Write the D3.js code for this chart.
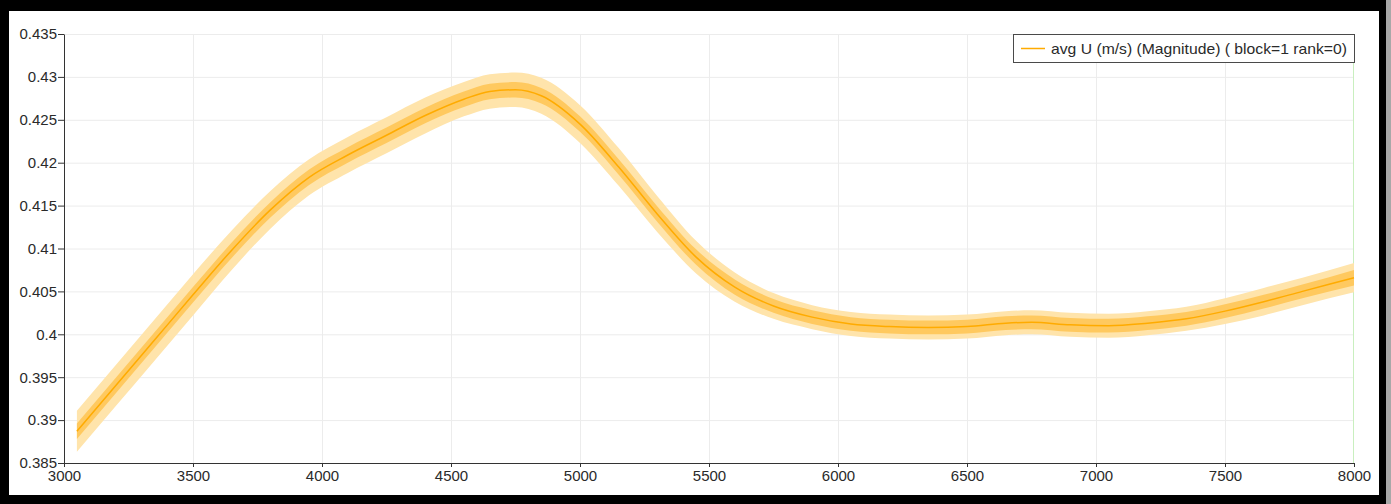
<!DOCTYPE html>
<html>
<head>
<meta charset="utf-8">
<script src="https://cdn.jsdelivr.net/npm/d3@7"></script>
<style>
  html, body { margin: 0; padding: 0; background: #000; }
  svg { display: block; }
  .axis path, .axis line { stroke: #333; }
  .axis text { font-family: "Liberation Sans", Arial, sans-serif; font-size: 15px; fill: #2a2a2a; }
  .grid line { stroke: #ececec; stroke-width: 1; }
</style>
</head>
<body>
<svg id="chart"></svg>
<script>
// time / position samples along the curve
const xs = [3050, 3200, 3350, 3500, 3650, 3800, 3950, 4100, 4250, 4400, 4550, 4650, 4750, 4850,
  5000, 5150, 5300, 5450, 5600, 5750, 5900, 6050, 6200, 6350, 6500, 6650, 6750, 6900, 7050,
  7200, 7350, 7500, 7650, 7800, 8000];
// average value
const avgU = [.3887, .3940, .3993, .4046, .4098, .4145, .4183, .4209, .4232, .4255, .4274, .4283, .4285, .4278,
  .4245, .4195, .4140, .4090, .4055, .4033, .4020, .4012, .4009, .4008, .4009, .4013, .4014, .4011, .4010,
  .4013, .4018, .4027, .4038, .4050, .4066];
// outer band (min / max)
const minU = [.3863, .3916, .3969, .4022, .4075, .4123, .4162, .4188, .4211, .4234, .4254, .4263, .4265, .4257,
  .4223, .4173, .4119, .4071, .4038, .4018, .4006, .3998, .3995, .3994, .3995, .3999, .4000, .3997, .3996,
  .3999, .4004, .4012, .4022, .4034, .4049];
const maxU = [.3911, .3964, .4017, .4070, .4121, .4167, .4204, .4230, .4253, .4276, .4294, .4303, .4305, .4299,
  .4267, .4217, .4161, .4109, .4072, .4048, .4034, .4026, .4023, .4022, .4023, .4027, .4028, .4025, .4024,
  .4027, .4032, .4042, .4054, .4066, .4083];
// inner band (quartiles)
const q1U = [.3878, .3931, .3984, .4037, .4089, .4136, .4174, .4200, .4223, .4246, .4265, .4274, .4276, .4269,
  .4236, .4186, .4131, .4081, .4046, .4025, .4012, .4004, .4001, .4000, .4001, .4005, .4006, .4003, .4002,
  .4005, .4010, .4019, .4030, .4042, .4057];
const q3U = [.3896, .3949, .4002, .4055, .4107, .4154, .4192, .4218, .4241, .4264, .4283, .4292, .4294, .4287,
  .4254, .4204, .4149, .4099, .4064, .4041, .4028, .4020, .4017, .4016, .4017, .4021, .4022, .4019, .4018,
  .4021, .4026, .4035, .4046, .4058, .4075];

const xTicks = [3000, 3500, 4000, 4500, 5000, 5500, 6000, 6500, 7000, 7500, 8000];
const yTicks = [0.385, 0.39, 0.395, 0.4, 0.405, 0.41, 0.415, 0.42, 0.425, 0.43, 0.435];
const yTickLabels = ['0.385', '0.39', '0.395', '0.4', '0.405', '0.41', '0.415', '0.42', '0.425', '0.43', '0.435'];
const legendLabel = 'avg U (m/s) (Magnitude) ( block=1 rank=0)';

const W = 1391, H = 504;
const margin = { left: 64, right: 1391 - 1354, top: 34, bottom: 504 - 463 };

const svg = d3.select('#chart').attr('width', W).attr('height', H);

// black frame, white canvas
svg.append('rect').attr('x', 0).attr('y', 0).attr('width', W).attr('height', H).attr('fill', '#000');
svg.append('rect').attr('x', 1386).attr('y', 0).attr('width', 5).attr('height', H).attr('fill', '#a8a8a8');
svg.append('rect').attr('x', 9).attr('y', 11).attr('width', 1370).attr('height', 484).attr('fill', '#fff');

const x = d3.scaleLinear().domain([3000, 8000]).range([margin.left, W - margin.right]);
const y = d3.scaleLinear().domain([0.385, 0.435]).range([H - margin.bottom, margin.top]);

// grid
const grid = svg.append('g').attr('class', 'grid');
grid.selectAll('.gx').data(xTicks.slice(1, -1)).enter().append('line')
  .attr('x1', d => x(d) + 0.5).attr('x2', d => x(d) + 0.5)
  .attr('y1', y(0.435)).attr('y2', y(0.385));
grid.selectAll('.gy').data(yTicks.slice(1)).enter().append('line')
  .attr('x1', x(3000)).attr('x2', x(8000))
  .attr('y1', d => y(d) + 0.5).attr('y2', d => y(d) + 0.5);

// right edge marker
svg.append('line')
  .attr('x1', x(8000) - 0.5).attr('x2', x(8000) - 0.5)
  .attr('y1', y(0.435)).attr('y2', y(0.385))
  .attr('stroke', '#c9efbf').attr('stroke-width', 1);

const idx = d3.range(xs.length);
const curve = d3.curveMonotoneX;

const band = (lo, hi) => d3.area()
  .x(i => x(xs[i]))
  .y0(i => y(lo[i]))
  .y1(i => y(hi[i]))
  .curve(curve);

svg.append('path').datum(idx).attr('d', band(minU, maxU)).attr('fill', '#ffe4ab');
svg.append('path').datum(idx).attr('d', band(q1U, q3U)).attr('fill', '#ffc95f');

svg.append('path').datum(idx)
  .attr('d', d3.line().x(i => x(xs[i])).y(i => y(avgU[i])).curve(curve))
  .attr('fill', 'none')
  .attr('stroke', '#ffab00')
  .attr('stroke-width', 1.5);

// axes
svg.append('g')
  .attr('class', 'axis')
  .attr('transform', `translate(0,${y(0.385)})`)
  .call(d3.axisBottom(x).tickValues(xTicks).tickSize(4).tickSizeOuter(0).tickPadding(3).tickFormat(d3.format('d')));

svg.append('g')
  .attr('class', 'axis')
  .attr('transform', `translate(${x(3000)},0)`)
  .call(d3.axisLeft(y).tickValues(yTicks).tickSize(6).tickSizeOuter(0).tickPadding(1)
    .tickFormat((d, i) => yTickLabels[i]));

// legend
const lg = svg.append('g').attr('transform', 'translate(1013,34)');
lg.append('rect').attr('x', 0.5).attr('y', 0.5).attr('width', 341).attr('height', 28)
  .attr('fill', '#fff').attr('stroke', '#4a4a4a');
lg.append('line').attr('x1', 8).attr('x2', 32).attr('y1', 14.5).attr('y2', 14.5)
  .attr('stroke', '#ffab00').attr('stroke-width', 1.5);
lg.append('text').attr('x', 38).attr('y', 20)
  .attr('textLength', 296).attr('lengthAdjust', 'spacingAndGlyphs')
  .style('font-family', '"Liberation Sans", Arial, sans-serif')
  .style('font-size', '15px').attr('fill', '#2a2a2a')
  .text(legendLabel);
</script>
</body>
</html>
